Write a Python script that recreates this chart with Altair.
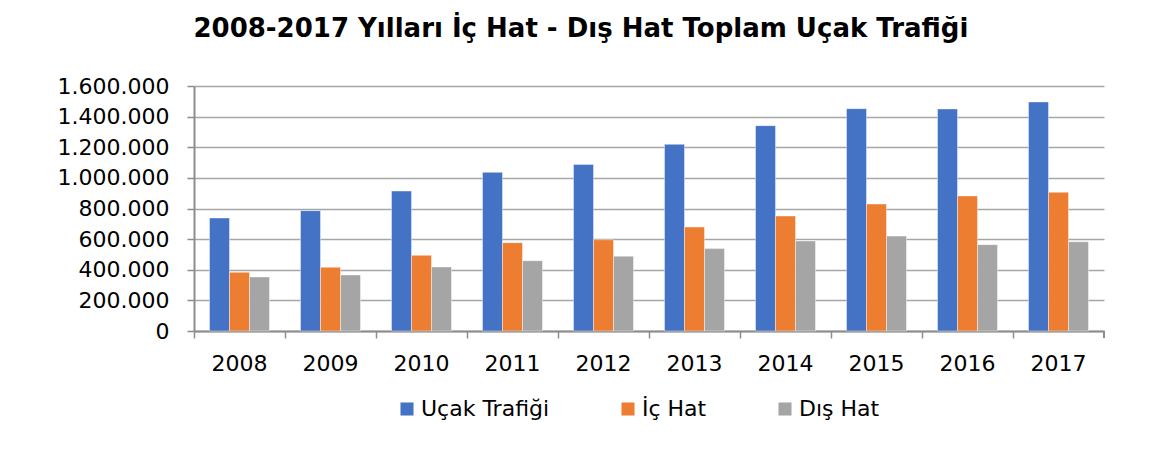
import altair as alt
import pandas as pd

years = ["2008", "2009", "2010", "2011", "2012", "2013", "2014", "2015", "2016", "2017"]
ucak_trafigi = [738000, 786000, 914000, 1036000, 1088000, 1219000, 1341000, 1452000, 1450000, 1496000]
ic_hat = [383000, 416000, 494000, 577000, 596000, 679000, 751000, 829000, 882000, 906000]
dis_hat = [353000, 366000, 418000, 459000, 488000, 538000, 588000, 620000, 564000, 583000]
series = ["Uçak Trafiği", "İç Hat", "Dış Hat"]
colors = ["#4472C4", "#ED7D31", "#A5A5A5"]
y_ticks = [0, 200000, 400000, 600000, 800000, 1000000, 1200000, 1400000, 1600000]

rows = []
for name, vals in zip(series, [ucak_trafigi, ic_hat, dis_hat]):
    for yr, v in zip(years, vals):
        rows.append({"Yıl": yr, "Seri": name, "Değer": v})
df = pd.DataFrame(rows)

W, H = 910, 245
FONT = "DejaVu Sans"

bars = alt.Chart(df).mark_bar(stroke="white", strokeWidth=0.6, strokeOpacity=0.7).encode(
    x=alt.X("Yıl:N", sort=years, title=None,
            scale=alt.Scale(paddingInner=0, paddingOuter=0),
            axis=alt.Axis(bandPosition=0, labelAngle=0, labelFontSize=22, labelFont=FONT,
                          labelColor="#000000", labelPadding=15, tickSize=7, tickColor="#8c8c8c",
                          tickWidth=1.5, domainColor="#8c8c8c", domainWidth=2, grid=False,
                          labelAlign="center", labelBaseline="top")),
    xOffset=alt.XOffset("Seri:N", sort=series,
                        scale=alt.Scale(paddingInner=0, paddingOuter=0.775)),
    y=alt.Y("Değer:Q", title=None,
            scale=alt.Scale(domain=[0, 1600000], nice=False),
            axis=alt.Axis(values=y_ticks, labelFontSize=22, labelFont=FONT, labelColor="#000000",
                          labelExpr="replace(format(datum.value, ','), regexp(',', 'g'), '.')",
                          labelPadding=18, tickSize=7, tickColor="#8c8c8c", tickWidth=1.5,
                          domainColor="#8c8c8c", domainWidth=2, gridColor="#a6a6a6",
                          gridWidth=1.3)),
    color=alt.Color("Seri:N", sort=series, title=None,
                    scale=alt.Scale(domain=series, range=colors),
                    legend=alt.Legend(orient="none", legendX=202, legendY=312,
                                      direction="horizontal", symbolType="square",
                                      symbolSize=170, symbolStrokeWidth=0, labelFontSize=22,
                                      labelFont=FONT, labelColor="#000000", columnPadding=67,
                                      symbolOffset=0, labelOffset=3)),
)

end_tick = alt.Chart(df).mark_rule(color="#8c8c8c", strokeWidth=1.5).encode(
    x=alt.value(W), y=alt.value(H), y2=alt.value(H + 7)
)

chart = alt.layer(bars, end_tick).properties(
    width=W, height=H,
    title=alt.TitleParams("2008-2017 Yılları İç Hat - Dış Hat Toplam Uçak Trafiği",
                          font=FONT, fontSize=26, fontWeight="bold", color="#000000",
                          anchor="middle", frame="bounds", offset=33),
    padding={"left": 49, "top": 8, "right": 10, "bottom": 5},
).configure_view(stroke=None)

chart.save("out.html", embed_options={"renderer": "svg", "actions": False})
